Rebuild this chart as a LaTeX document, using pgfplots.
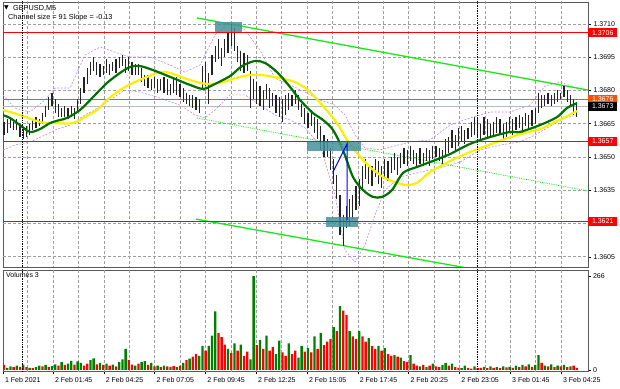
\documentclass[border=0pt]{standalone}
\usepackage{fontspec}
\setmainfont{Liberation Sans}
\newfontfamily\dv{DejaVu Sans}
\usepackage{pgfplots}
\pgfplotsset{compat=1.18}
\usepackage{pgfplotstable}

\definecolor{mtgreen}{RGB}{0,128,0}
\definecolor{mtred}{RGB}{255,0,0}
\definecolor{mtorange}{RGB}{255,80,0}
\definecolor{chgreen}{RGB}{20,235,20}
\definecolor{mayellow}{RGB}{250,240,0}
\definecolor{madkgreen}{RGB}{0,112,0}
\definecolor{envcol}{RGB}{190,140,230}
\definecolor{boxteal}{RGB}{70,145,155}
\definecolor{barcol}{RGB}{35,35,35}

\pgfplotstableread{
x lo hi
4.0 1.3660 1.3666
7.2 1.3661 1.3667
10.4 1.3663 1.3668
13.6 1.3662 1.3666
16.8 1.3662 1.3667
20.0 1.3659 1.3665
23.2 1.3658 1.3663
26.4 1.3659 1.3664
29.6 1.3660 1.3665
32.8 1.3662 1.3667
36.0 1.3663 1.3668
39.2 1.3664 1.3667
42.4 1.3665 1.3670
45.6 1.3668 1.3673
48.8 1.3671 1.3677
52.0 1.3673 1.3679
55.2 1.3670 1.3676
58.4 1.3668 1.3674
61.6 1.3668 1.3672
64.8 1.3668 1.3673
68.0 1.3667 1.3672
71.2 1.3668 1.3673
74.4 1.3667 1.3672
77.6 1.3670 1.3676
80.8 1.3674 1.3681
84.0 1.3679 1.3686
87.2 1.3683 1.3690
90.4 1.3687 1.3693
93.6 1.3689 1.3695
96.8 1.3687 1.3693
100.0 1.3686 1.3692
103.2 1.3687 1.3691
106.4 1.3688 1.3694
109.6 1.3687 1.3692
112.8 1.3689 1.3693
116.0 1.3688 1.3694
119.2 1.3690 1.3695
122.4 1.3691 1.3696
125.6 1.3688 1.3694
128.8 1.3689 1.3695
132.0 1.3687 1.3693
135.2 1.3687 1.3692
138.4 1.3687 1.3692
141.6 1.3684 1.3690
144.8 1.3682 1.3687
148.0 1.3681 1.3687
151.2 1.3680 1.3685
154.4 1.3681 1.3686
157.6 1.3679 1.3685
160.8 1.3680 1.3685
164.0 1.3679 1.3686
167.2 1.3678 1.3685
170.4 1.3678 1.3683
173.6 1.3679 1.3685
176.8 1.3678 1.3686
180.0 1.3677 1.3683
183.2 1.3675 1.3681
186.4 1.3674 1.3679
189.6 1.3673 1.3678
192.8 1.3672 1.3678
196.0 1.3671 1.3677
199.2 1.3670 1.3676
202.4 1.3680 1.3691
205.6 1.3682 1.3693
208.8 1.3674 1.3688
212.0 1.3687 1.3696
215.2 1.3693 1.3700
218.4 1.3694 1.3703
221.6 1.3691 1.3699
224.8 1.3695 1.3703
228.0 1.3697 1.3706
231.2 1.3700 1.3710
234.4 1.3698 1.3708
237.6 1.3693 1.3700
240.8 1.3689 1.3698
244.0 1.3688 1.3697
247.2 1.3689 1.3696
250.4 1.3672 1.3689
253.6 1.3676 1.3685
256.8 1.3674 1.3684
260.0 1.3673 1.3682
263.2 1.3671 1.3680
266.4 1.3676 1.3683
269.6 1.3672 1.3681
272.8 1.3673 1.3679
276.0 1.3670 1.3678
279.2 1.3668 1.3677
282.4 1.3666 1.3676
285.6 1.3669 1.3678
288.8 1.3671 1.3679
292.0 1.3673 1.3678
295.2 1.3674 1.3680
298.4 1.3671 1.3678
301.6 1.3668 1.3674
304.8 1.3665 1.3672
308.0 1.3663 1.3670
311.2 1.3664 1.3671
314.4 1.3661 1.3668
317.6 1.3658 1.3667
320.8 1.3653 1.3664
324.0 1.3650 1.3660
327.2 1.3650 1.3658
330.4 1.3644 1.3654
333.6 1.3638 1.3649
336.8 1.3631 1.3642
340.0 1.3615 1.3633
343.2 1.3610 1.3624
346.4 1.3618 1.3628
349.6 1.3619 1.3631
352.8 1.3622 1.3633
356.0 1.3626 1.3637
359.2 1.3628 1.3640
362.4 1.3636 1.3646
365.6 1.3640 1.3649
368.8 1.3638 1.3647
372.0 1.3637 1.3646
375.2 1.3641 1.3649
378.4 1.3638 1.3648
381.6 1.3636 1.3646
384.8 1.3640 1.3649
388.0 1.3639 1.3648
391.2 1.3643 1.3650
394.4 1.3644 1.3652
397.6 1.3642 1.3650
400.8 1.3645 1.3652
404.0 1.3647 1.3654
407.2 1.3646 1.3653
410.4 1.3648 1.3655
413.6 1.3647 1.3653
416.8 1.3645 1.3652
420.0 1.3647 1.3654
423.2 1.3646 1.3652
426.4 1.3648 1.3654
429.6 1.3646 1.3653
432.8 1.3649 1.3655
436.0 1.3650 1.3655
439.2 1.3648 1.3654
442.4 1.3647 1.3653
445.6 1.3650 1.3658
448.8 1.3652 1.3659
452.0 1.3654 1.3662
455.2 1.3653 1.3660
458.4 1.3655 1.3663
461.6 1.3657 1.3664
464.8 1.3656 1.3662
468.0 1.3658 1.3663
471.2 1.3659 1.3666
474.4 1.3660 1.3668
477.6 1.3659 1.3667
480.8 1.3658 1.3665
484.0 1.3660 1.3668
487.2 1.3659 1.3667
490.4 1.3659 1.3665
493.6 1.3659 1.3666
496.8 1.3661 1.3668
500.0 1.3660 1.3667
503.2 1.3658 1.3665
506.4 1.3659 1.3666
509.6 1.3661 1.3668
512.8 1.3660 1.3667
516.0 1.3662 1.3668
519.2 1.3663 1.3669
522.4 1.3661 1.3668
525.6 1.3664 1.3670
528.8 1.3662 1.3669
532.0 1.3664 1.3671
535.2 1.3665 1.3672
538.4 1.3670 1.3679
541.6 1.3672 1.3678
544.8 1.3673 1.3678
548.0 1.3674 1.3679
551.2 1.3673 1.3678
554.4 1.3674 1.3679
557.6 1.3675 1.3680
560.8 1.3676 1.3679
564.0 1.3677 1.3682
567.2 1.3675 1.3680
570.4 1.3673 1.3678
573.6 1.3669 1.3676
576.8 1.3668 1.3675
}\candles

\pgfplotstableread{
x y
3 1.36689
10 1.36676
20 1.36644
30 1.36613
40 1.36626
50 1.36653
60 1.36667
67 1.36676
80 1.36712
93 1.36770
107 1.36834
120 1.36879
130 1.36906
140 1.36910
153 1.36892
173 1.36856
190 1.36825
203 1.36807
213 1.36825
230 1.36865
242 1.36910
255 1.36933
265 1.36924
277 1.36883
290 1.36816
300 1.36757
313 1.36698
323 1.36667
333 1.36622
343 1.36531
353 1.36410
363 1.36351
373 1.36320
382 1.36320
392 1.36351
403 1.36428
417 1.36455
430 1.36477
443 1.36500
450 1.36513
470 1.36559
490 1.36590
510 1.36613
520 1.36613
540 1.36644
557 1.36680
567 1.36721
577 1.36743
}\greenma

\pgfplotstableread{
x y
3 1.36712
20 1.36689
40 1.36658
53 1.36653
73 1.36653
83 1.36676
97 1.36712
107 1.36757
120 1.36802
133 1.36834
147 1.36861
160 1.36883
170 1.36879
190 1.36847
207 1.36829
223 1.36838
243 1.36865
260 1.36870
280 1.36856
297 1.36834
310 1.36793
323 1.36730
337 1.36653
347 1.36577
357 1.36518
370 1.36455
383 1.36410
397 1.36383
407 1.36374
417 1.36383
430 1.36432
443 1.36464
450 1.36482
470 1.36522
497 1.36568
517 1.36599
540 1.36626
557 1.36662
573 1.36698
577 1.36707
}\yellowma

\pgfplotstableread{
x y
3 1.36779
15 1.36721
30 1.36703
45 1.36757
55 1.36811
70 1.36811
85 1.36960
100 1.36996
115 1.36973
130 1.36951
150 1.36951
170 1.36915
185 1.36883
200 1.36915
215 1.37050
230 1.37109
245 1.37073
260 1.36982
275 1.36856
290 1.36825
305 1.36793
320 1.36757
335 1.36734
345 1.36690
355 1.36599
365 1.36541
380 1.36532
395 1.36550
410 1.36568
430 1.36577
450 1.36644
470 1.36676
490 1.36703
510 1.36703
530 1.36734
545 1.36820
560 1.36838
577 1.36811
}\envup

\pgfplotstableread{
x y
3 1.36531
15 1.36554
30 1.36568
45 1.36599
55 1.36622
70 1.36644
85 1.36690
95 1.36712
110 1.36757
125 1.36802
140 1.36793
160 1.36766
180 1.36734
195 1.36690
205 1.36676
215 1.36712
230 1.36780
245 1.36780
260 1.36734
275 1.36690
290 1.36667
305 1.36631
320 1.36554
335 1.36329
345 1.36081
355 1.36026
365 1.36103
375 1.36239
385 1.36351
400 1.36410
420 1.36432
440 1.36450
460 1.36477
480 1.36531
500 1.36554
520 1.36568
535 1.36599
550 1.36639
565 1.36676
577 1.36689
}\envlo

\pgfplotstableread{
x g r
4.0 0 14
7.2 6 0
10.4 10 0
13.6 0 8
16.8 12 0
20.0 0 9
23.2 15 0
26.4 0 8
29.6 6 0
32.8 0 5
36.0 8 0
39.2 12 0
42.4 0 10
45.6 14 0
48.8 0 9
52.0 11 0
55.2 16 0
58.4 0 12
61.6 22 0
64.8 0 14
68.0 18 0
71.2 26 0
74.4 0 15
77.6 24 0
80.8 20 0
84.0 0 12
87.2 0 18
90.4 28 0
93.6 33 0
96.8 0 16
100.0 20 0
103.2 0 14
106.4 18 0
109.6 0 12
112.8 15 0
116.0 0 10
119.2 22 0
122.4 30 0
125.6 60 0
128.8 0 28
132.0 0 15
135.2 12 0
138.4 0 18
141.6 22 0
144.8 25 0
148.0 0 14
151.2 20 0
154.4 0 10
157.6 12 0
160.8 0 8
164.0 12 0
167.2 0 10
170.4 9 0
173.6 0 11
176.8 8 0
180.0 0 12
183.2 20 0
186.4 0 28
189.6 32 0
192.8 0 38
196.0 0 45
199.2 40 0
202.4 68 0
205.6 0 55
208.8 68 0
212.0 97 0
215.2 166 0
218.4 0 105
221.6 0 93
224.8 0 72
228.0 60 0
231.2 0 48
234.4 75 0
237.6 0 55
240.8 72 0
244.0 0 40
247.2 0 52
250.4 30 0
253.6 266 0
256.8 0 70
260.0 85 0
263.2 0 60
266.4 97 0
269.6 0 55
272.8 0 65
276.0 45 0
279.2 83 0
282.4 0 50
285.6 0 40
288.8 75 0
292.0 0 45
295.2 0 55
298.4 35 0
301.6 68 0
304.8 0 52
308.0 62 0
311.2 0 50
314.4 95 0
317.6 0 60
320.8 105 0
324.0 0 70
327.2 0 80
330.4 0 88
333.6 121 0
336.8 0 110
340.0 181 0
343.2 0 168
346.4 0 155
349.6 110 0
352.8 0 95
356.0 0 88
359.2 110 0
362.4 0 95
365.6 0 80
368.8 90 0
372.0 0 68
375.2 0 60
378.4 68 0
381.6 0 55
384.8 62 0
388.0 0 45
391.2 0 40
394.4 42 0
397.6 0 38
400.8 35 0
404.0 0 25
407.2 0 22
410.4 42 0
413.6 0 18
416.8 0 12
420.0 10 0
423.2 0 14
426.4 8 0
429.6 0 12
432.8 18 0
436.0 0 10
439.2 0 8
442.4 14 0
445.6 20 0
448.8 0 12
452.0 18 0
455.2 0 8
458.4 0 6
461.6 5 0
464.8 12 0
468.0 0 6
471.2 0 4
474.4 10 0
477.6 0 5
480.8 0 6
484.0 8 0
487.2 0 5
490.4 10 0
493.6 0 6
496.8 8 0
500.0 0 5
503.2 10 0
506.4 0 7
509.6 9 0
512.8 0 6
516.0 12 0
519.2 0 8
522.4 14 0
525.6 0 10
528.8 16 0
532.0 0 9
535.2 14 0
538.4 42 0
541.6 0 20
544.8 12 0
548.0 0 10
551.2 16 0
554.4 0 8
557.6 12 0
560.8 0 10
564.0 14 0
567.2 0 8
570.4 10 0
573.6 0 12
576.8 0 6
}\vols

\newcommand{\lblfont}{\fontsize{7}{8}\selectfont}

\begin{document}
\begin{tikzpicture}
\path[use as bounding box, fill=white] (0pt,0pt) rectangle (620pt,388pt);

% ---------------- price panel ----------------
\begin{axis}[
  at={(3pt,121pt)}, anchor=south west,
  width=585pt, height=265pt, scale only axis,
  xmin=3, xmax=588, ymin=1.36004, ymax=1.37199,
  clip mode=individual,
  axis line style={draw=gray!70!black, line width=0.8pt},
  xtick=\empty,
  ytick={1.3605,1.3620,1.3635,1.3650,1.3665,1.3680,1.3695,1.3710},
  yticklabels={1.3605,,1.3635,1.3650,1.3665,1.3680,1.3695,1.3710},
  ytick pos=right, yticklabel pos=right,
  ytick style={draw=black, line width=0.5pt},
  tick align=outside, major tick length=3pt,
  yticklabel style={font=\lblfont, anchor=west, xshift=-1pt},
]
% grid (vertical)
\addplot[black!38, densely dashed, line width=0.6pt] coordinates {(27.6,1.3595) (27.6,1.3725)};
\addplot[black!38, densely dashed, line width=0.6pt] coordinates {(53,1.3595) (53,1.3725)};
\addplot[black!38, densely dashed, line width=0.6pt] coordinates {(78.4,1.3595) (78.4,1.3725)};
\addplot[black!38, densely dashed, line width=0.6pt] coordinates {(103.8,1.3595) (103.8,1.3725)};
\addplot[black!38, densely dashed, line width=0.6pt] coordinates {(129.2,1.3595) (129.2,1.3725)};
\addplot[black!38, densely dashed, line width=0.6pt] coordinates {(154.6,1.3595) (154.6,1.3725)};
\addplot[black!38, densely dashed, line width=0.6pt] coordinates {(180,1.3595) (180,1.3725)};
\addplot[black!38, densely dashed, line width=0.6pt] coordinates {(205.4,1.3595) (205.4,1.3725)};
\addplot[black!38, densely dashed, line width=0.6pt] coordinates {(230.8,1.3595) (230.8,1.3725)};
\addplot[black!38, densely dashed, line width=0.6pt] coordinates {(256.2,1.3595) (256.2,1.3725)};
\addplot[black!38, densely dashed, line width=0.6pt] coordinates {(281.6,1.3595) (281.6,1.3725)};
\addplot[black!38, densely dashed, line width=0.6pt] coordinates {(307,1.3595) (307,1.3725)};
\addplot[black!38, densely dashed, line width=0.6pt] coordinates {(332.4,1.3595) (332.4,1.3725)};
\addplot[black!38, densely dashed, line width=0.6pt] coordinates {(357.8,1.3595) (357.8,1.3725)};
\addplot[black!38, densely dashed, line width=0.6pt] coordinates {(383.2,1.3595) (383.2,1.3725)};
\addplot[black!38, densely dashed, line width=0.6pt] coordinates {(408.6,1.3595) (408.6,1.3725)};
\addplot[black!38, densely dashed, line width=0.6pt] coordinates {(434,1.3595) (434,1.3725)};
\addplot[black!38, densely dashed, line width=0.6pt] coordinates {(459.4,1.3595) (459.4,1.3725)};
\addplot[black!38, densely dashed, line width=0.6pt] coordinates {(484.8,1.3595) (484.8,1.3725)};
\addplot[black!38, densely dashed, line width=0.6pt] coordinates {(510.2,1.3595) (510.2,1.3725)};
\addplot[black!38, densely dashed, line width=0.6pt] coordinates {(535.6,1.3595) (535.6,1.3725)};
\addplot[black!38, densely dashed, line width=0.6pt] coordinates {(561,1.3595) (561,1.3725)};
% grid (horizontal)
\addplot[black!38, densely dashed, line width=0.6pt] coordinates {(3,1.3605) (588,1.3605)};
\addplot[black!38, densely dashed, line width=0.6pt] coordinates {(3,1.3620) (588,1.3620)};
\addplot[black!38, densely dashed, line width=0.6pt] coordinates {(3,1.3635) (588,1.3635)};
\addplot[black!38, densely dashed, line width=0.6pt] coordinates {(3,1.3650) (588,1.3650)};
\addplot[black!38, densely dashed, line width=0.6pt] coordinates {(3,1.3665) (588,1.3665)};
\addplot[black!38, densely dashed, line width=0.6pt] coordinates {(3,1.3680) (588,1.3680)};
\addplot[black!38, densely dashed, line width=0.6pt] coordinates {(3,1.3695) (588,1.3695)};
\addplot[black!38, densely dashed, line width=0.6pt] coordinates {(3,1.3710) (588,1.3710)};
% envelopes
\addplot[envcol, dash pattern=on 2pt off 1.5pt, line width=0.6pt] table[x=x,y=y] {\envup};
\addplot[envcol, dash pattern=on 2pt off 1.5pt, line width=0.6pt] table[x=x,y=y] {\envlo};
% horizontal levels
\addplot[gray!55, line width=0.6pt] coordinates {(3,1.3673) (588,1.3673)};
\addplot[mtorange, line width=0.7pt] coordinates {(3,1.3676) (588,1.3676)};
% channel
\addplot[chgreen, line width=1.3pt] coordinates {(197,1.37127) (588,1.36802)};
\addplot[chgreen, line width=1.3pt] coordinates {(196,1.36220) (470,1.35997)};
\addplot[chgreen, densely dotted, line width=0.8pt] coordinates {(197,1.36676) (588,1.36347)};
% candles
\addplot[draw=none, no markers,
  error bars/.cd, y dir=minus, y explicit, error mark=none,
  error bar style={draw=barcol, line width=1.35pt, solid}]
  table[x=x, y=hi, y error expr=\thisrow{hi}-\thisrow{lo}] {\candles};
% moving averages
\addplot[mayellow, line width=2.2pt, smooth] table[x=x,y=y] {\yellowma};
\addplot[madkgreen, line width=2.2pt, smooth] table[x=x,y=y] {\greenma};
% teal boxes
\addplot[fill=boxteal, draw=none, fill opacity=0.85] coordinates {(215,1.37059) (242,1.37059) (242,1.37109) (215,1.37109)} -- cycle;
\addplot[fill=boxteal, draw=none, fill opacity=0.85] coordinates {(307,1.36527) (361,1.36527) (361,1.36567) (307,1.36567)} -- cycle;
\addplot[fill=boxteal, draw=none, fill opacity=0.85] coordinates {(326,1.36184) (358,1.36184) (358,1.36229) (326,1.36229)} -- cycle;
% red levels
\addplot[mtred, line width=1.3pt] coordinates {(3,1.3706) (588,1.3706)};
\addplot[mtred, line width=1.3pt] coordinates {(3,1.3657) (588,1.3657)};
\addplot[mtred, line width=1.3pt] coordinates {(3,1.3621) (588,1.3621)};
% blue lines
\addplot[blue, line width=1pt] coordinates {(333,1.36432) (347,1.36559) (347,1.36216)};
% day separators
\addplot[black, densely dotted, line width=0.7pt] coordinates {(22,1.3595) (22,1.3725)};
\addplot[black, densely dotted, line width=0.7pt] coordinates {(477,1.3595) (477,1.3725)};
% right labels
\node[anchor=west, fill=mtred, text=white, font=\lblfont, inner sep=1pt, minimum height=9pt, minimum width=29pt] at (axis cs:588,1.3706) {1.3706};
\node[anchor=west, fill=mtred, text=white, font=\lblfont, inner sep=1pt, minimum height=9pt, minimum width=29pt] at (axis cs:588,1.3657) {1.3657};
\node[anchor=west, fill=mtred, text=white, font=\lblfont, inner sep=1pt, minimum height=9pt, minimum width=29pt] at (axis cs:588,1.3621) {1.3621};
\node[anchor=west, fill=mtorange, text=white, font=\lblfont, inner sep=1pt, minimum height=9pt, minimum width=29pt] at (axis cs:588,1.3676) {1.3676};
\node[anchor=west, fill=black, text=white, font=\lblfont, inner sep=1pt, minimum height=9pt, minimum width=29pt] at (axis cs:588,1.3673) {1.3673};
\end{axis}

% ---------------- volume panel ----------------
\begin{axis}[
  at={(3pt,17pt)}, anchor=south west,
  width=585pt, height=101pt, scale only axis,
  xmin=3, xmax=588, ymin=-3, ymax=283,
  clip mode=individual,
  axis line style={draw=gray!70!black, line width=0.8pt},
  xtick={3,53,103.8,154.6,205.4,256.2,307,357.8,408.6,459.4,510.2,561},
  xticklabels={1 Feb 2021,2 Feb 01:45,2 Feb 04:25,2 Feb 07:05,2 Feb 09:45,2 Feb 12:25,2 Feb 15:05,2 Feb 17:45,2 Feb 20:25,2 Feb 23:05,3 Feb 01:45,3 Feb 04:25},
  xtick pos=bottom,
  xtick style={draw=black, line width=0.5pt},
  xticklabel style={font=\lblfont, anchor=north west, xshift=-1.5pt, yshift=0pt},
  tick align=outside, major tick length=2.5pt,
  ytick={0,266}, yticklabels={0,266},
  ytick pos=right, yticklabel pos=right,
  ytick style={draw=black, line width=0.5pt},
  yticklabel style={font=\lblfont, anchor=west, xshift=-1pt},
]
\addplot[black!38, densely dashed, line width=0.6pt] coordinates {(27.6,-10) (27.6,300)};
\addplot[black!38, densely dashed, line width=0.6pt] coordinates {(53,-10) (53,300)};
\addplot[black!38, densely dashed, line width=0.6pt] coordinates {(78.4,-10) (78.4,300)};
\addplot[black!38, densely dashed, line width=0.6pt] coordinates {(103.8,-10) (103.8,300)};
\addplot[black!38, densely dashed, line width=0.6pt] coordinates {(129.2,-10) (129.2,300)};
\addplot[black!38, densely dashed, line width=0.6pt] coordinates {(154.6,-10) (154.6,300)};
\addplot[black!38, densely dashed, line width=0.6pt] coordinates {(180,-10) (180,300)};
\addplot[black!38, densely dashed, line width=0.6pt] coordinates {(205.4,-10) (205.4,300)};
\addplot[black!38, densely dashed, line width=0.6pt] coordinates {(230.8,-10) (230.8,300)};
\addplot[black!38, densely dashed, line width=0.6pt] coordinates {(256.2,-10) (256.2,300)};
\addplot[black!38, densely dashed, line width=0.6pt] coordinates {(281.6,-10) (281.6,300)};
\addplot[black!38, densely dashed, line width=0.6pt] coordinates {(307,-10) (307,300)};
\addplot[black!38, densely dashed, line width=0.6pt] coordinates {(332.4,-10) (332.4,300)};
\addplot[black!38, densely dashed, line width=0.6pt] coordinates {(357.8,-10) (357.8,300)};
\addplot[black!38, densely dashed, line width=0.6pt] coordinates {(383.2,-10) (383.2,300)};
\addplot[black!38, densely dashed, line width=0.6pt] coordinates {(408.6,-10) (408.6,300)};
\addplot[black!38, densely dashed, line width=0.6pt] coordinates {(434,-10) (434,300)};
\addplot[black!38, densely dashed, line width=0.6pt] coordinates {(459.4,-10) (459.4,300)};
\addplot[black!38, densely dashed, line width=0.6pt] coordinates {(484.8,-10) (484.8,300)};
\addplot[black!38, densely dashed, line width=0.6pt] coordinates {(510.2,-10) (510.2,300)};
\addplot[black!38, densely dashed, line width=0.6pt] coordinates {(535.6,-10) (535.6,300)};
\addplot[black!38, densely dashed, line width=0.6pt] coordinates {(561,-10) (561,300)};
\addplot[ybar, bar width=2.3pt, bar shift=0pt, fill=mtred, draw=none] table[x=x,y=r] {\vols};
\addplot[ybar, bar width=2.3pt, bar shift=0pt, fill=mtgreen, draw=none] table[x=x,y=g] {\vols};
\addplot[black, densely dotted, line width=0.7pt] coordinates {(22,-10) (22,300)};
\addplot[black, densely dotted, line width=0.7pt] coordinates {(477,-10) (477,300)};
\node[anchor=north west, font=\lblfont, inner sep=0pt] at (axis cs:6,276) {Volumes 3};
\end{axis}

% ---------------- header texts ----------------
\node[anchor=west, inner sep=0pt, font=\fontsize{6}{7}\selectfont\dv] at (4pt,380pt) {▼};
\node[anchor=west, inner sep=0pt, font=\fontsize{7.3}{8}\selectfont] at (13pt,380pt) {GBPUSD,M5};
\node[anchor=west, inner sep=0pt, font=\fontsize{7.3}{8}\selectfont] at (8pt,370pt) {Channel size = 91 Slope = -0.13};
\end{tikzpicture}
\end{document}
